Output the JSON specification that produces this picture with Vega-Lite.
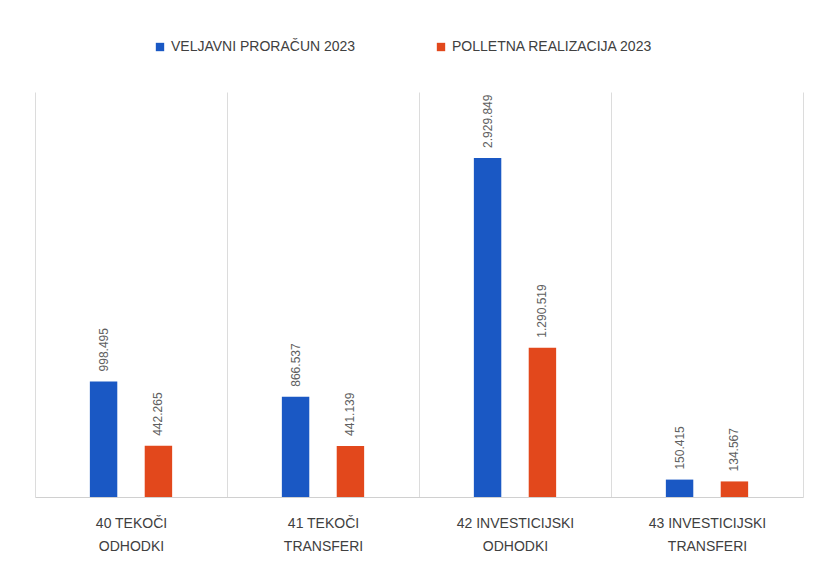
{
  "$schema": "https://vega.github.io/schema/vega-lite/v6.json",
  "width": 768,
  "height": 405,
  "autosize": {"type": "none"},
  "padding": {"left": 35, "top": 92, "right": 12, "bottom": 69},
  "background": "white",
  "config": {
    "locale": {"number": {"decimal": ",", "thousands": ".", "grouping": [3], "currency": ["", " €"]}},
    "view": {"stroke": null},
    "font": "Liberation Sans"
  },
  "data": {
    "values": [
      {"kategorija": "40 TEKOČI ODHODKI", "serija": "VELJAVNI PRORAČUN 2023", "vrednost": 998495},
      {"kategorija": "40 TEKOČI ODHODKI", "serija": "POLLETNA REALIZACIJA 2023", "vrednost": 442265},
      {"kategorija": "41 TEKOČI TRANSFERI", "serija": "VELJAVNI PRORAČUN 2023", "vrednost": 866537},
      {"kategorija": "41 TEKOČI TRANSFERI", "serija": "POLLETNA REALIZACIJA 2023", "vrednost": 441139},
      {"kategorija": "42 INVESTICIJSKI ODHODKI", "serija": "VELJAVNI PRORAČUN 2023", "vrednost": 2929849},
      {"kategorija": "42 INVESTICIJSKI ODHODKI", "serija": "POLLETNA REALIZACIJA 2023", "vrednost": 1290519},
      {"kategorija": "43 INVESTICIJSKI TRANSFERI", "serija": "VELJAVNI PRORAČUN 2023", "vrednost": 150415},
      {"kategorija": "43 INVESTICIJSKI TRANSFERI", "serija": "POLLETNA REALIZACIJA 2023", "vrednost": 134567}
    ]
  },
  "encoding": {
    "x": {
      "field": "kategorija",
      "type": "nominal",
      "sort": null,
      "scale": {"paddingInner": 0, "paddingOuter": 0},
      "axis": {
        "title": null,
        "labelAngle": 0,
        "labelExpr": "datum.label ? [split(datum.label,' ')[0] + ' ' + split(datum.label,' ')[1], split(datum.label,' ')[2]] : ''",
        "labelFontSize": 14,
        "labelColor": "#404040",
        "labelLineHeight": 23,
        "labelPadding": 19,
        "ticks": false,
        "domainColor": "#d0d0d0",
        "grid": true,
        "gridColor": "#dcdcdc",
        "tickBand": "extent"
      }
    },
    "xOffset": {
      "field": "serija",
      "type": "nominal",
      "sort": ["VELJAVNI PRORAČUN 2023", "POLLETNA REALIZACIJA 2023"],
      "scale": {"paddingInner": 0.5, "paddingOuter": 1.2}
    },
    "y": {
      "field": "vrednost",
      "type": "quantitative",
      "scale": {"domain": [0, 3500000]},
      "axis": null
    }
  },
  "layer": [
    {
      "mark": {"type": "bar"},
      "encoding": {
        "color": {
          "field": "serija",
          "type": "nominal",
          "sort": ["VELJAVNI PRORAČUN 2023", "POLLETNA REALIZACIJA 2023"],
          "scale": {"range": ["#1a58c4", "#e2481c"]},
          "legend": {
            "title": null,
            "orient": "none",
            "legendX": 118,
            "legendY": -52,
            "direction": "horizontal",
            "symbolType": "square",
            "symbolSize": 70,
            "labelFontSize": 14,
            "labelLimit": 400,
            "labelColor": "#404040",
            "columnPadding": 78
          }
        }
      }
    },
    {
      "mark": {"type": "text", "angle": -90, "align": "left", "baseline": "middle", "dx": 10, "fontSize": 12, "color": "#606060"},
      "encoding": {
        "text": {"field": "vrednost", "type": "quantitative", "format": ",d"}
      }
    }
  ]
}
